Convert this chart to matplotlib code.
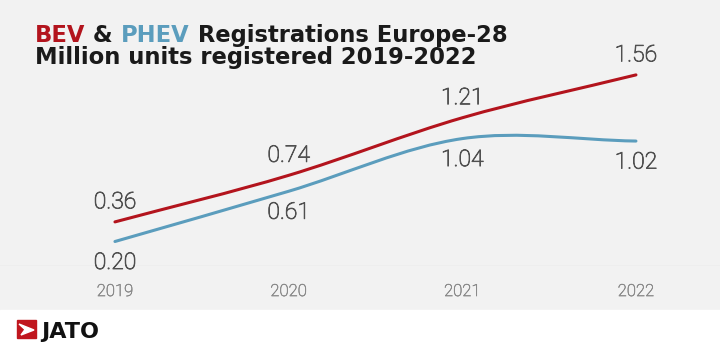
import matplotlib
matplotlib.use("Agg")
import matplotlib.pyplot as plt
import matplotlib.patheffects as pe
import numpy as np
from matplotlib.path import Path
from matplotlib.patches import PathPatch, Rectangle, Polygon

years = [2019, 2020, 2021, 2022]
bev = [0.36, 0.74, 1.21, 1.56]
phev = [0.20, 0.61, 1.04, 1.02]
bev_labels = ["0.36", "0.74", "1.21", "1.56"]
phev_labels = ["0.20", "0.61", "1.04", "1.02"]

RED = "#b3141d"
BLUE = "#5b9dbd"
BG = "#f2f2f2"

W, H = 720, 350
fig = plt.figure(figsize=(7.2, 3.5), dpi=100, facecolor=BG)

# white footer strip with logo
fig.patches.append(Rectangle((0, 0), 1, 40 / H, transform=fig.transFigure, color="white", zorder=0))
fig.patches.append(Rectangle((17 / W, 12 / H), 19 / W, 18 / H, transform=fig.transFigure,
                             color="#c0161e", zorder=1))
arrow = np.array([[19, 26], [34, 20], [21, 15], [25, 20.5]], dtype=float)
arrow[:, 0] /= W
arrow[:, 1] /= H
fig.patches.append(Polygon(arrow, closed=True, transform=fig.transFigure, color="white", zorder=2))
fig.text(41 / W, 12 / H, "JATO", fontsize=16, fontweight="bold", color="#111111",
         family="DejaVu Sans", va="baseline", ha="left")

# main axes: bottom = zero line at y=266px
ax = fig.add_axes([0, (H - 266) / H, 1, (266 - 30) / H])
ax.set_facecolor(BG)
ax.set_xlim(2018.338, 2022.484)
ax.set_ylim(0, 236 / 122.5)
for s in ax.spines.values():
    s.set_visible(False)
ax.axhline(0, color="#e2e2e2", lw=1, zorder=1)
ax.set_yticks([])
ax.set_xticks(years)
ax.set_xticklabels([str(y) for y in years])
ax.tick_params(axis="x", length=0, pad=13, labelsize=12, labelcolor="#8a8a8a")
for t in ax.get_xticklabels():
    t.set_family(["Roboto", "DejaVu Sans"])
    t.set_fontweight("light")
    t.set_path_effects([pe.withStroke(linewidth=0.4, foreground="#8a8a8a")])


def smooth(xs, ys):
    xs = np.asarray(xs, float)
    ys = np.asarray(ys, float)
    n = len(xs)
    m = np.zeros(n)
    for i in range(n):
        if i == 0:
            m[i] = (ys[1] - ys[0]) / (xs[1] - xs[0])
        elif i == n - 1:
            m[i] = (ys[-1] - ys[-2]) / (xs[-1] - xs[-2])
        else:
            m[i] = (ys[i + 1] - ys[i - 1]) / (xs[i + 1] - xs[i - 1])
    verts = [(xs[0], ys[0])]
    codes = [Path.MOVETO]
    for i in range(n - 1):
        dx = xs[i + 1] - xs[i]
        verts += [(xs[i] + dx / 3, ys[i] + m[i] * dx / 3),
                  (xs[i + 1] - dx / 3, ys[i + 1] - m[i + 1] * dx / 3),
                  (xs[i + 1], ys[i + 1])]
        codes += [Path.CURVE4] * 3
    return Path(verts, codes)


ax.add_patch(PathPatch(smooth(years, phev), fill=False, edgecolor=BLUE, lw=2.2,
                       capstyle="round", zorder=3))
ax.add_patch(PathPatch(smooth(years, bev), fill=False, edgecolor=RED, lw=2.2,
                       capstyle="round", zorder=4))

lab_kw = dict(textcoords="offset pixels", ha="center", va="center", fontsize=16.5,
              color="#505050", family=["Roboto", "DejaVu Sans"], fontweight="light",
              path_effects=[pe.withStroke(linewidth=0.6, foreground="#505050")])
for x, v, s in zip(years, bev, bev_labels):
    ax.annotate(s, (x, v), xytext=(0, 20), **lab_kw)
for x, v, s in zip(years, phev, phev_labels):
    ax.annotate(s, (x, v), xytext=(0, -21), **lab_kw)

# title in pieces
tfam = "DejaVu Sans"
fig.canvas.draw()
r = fig.canvas.get_renderer()
x0 = 35 / W
y1 = (H - 42) / H
y2 = (H - 64) / H
pieces = [("BEV", RED), (" & ", "#1a1a1a"), ("PHEV", BLUE), (" Registrations Europe-28", "#1a1a1a")]
x = x0
for txt, c in pieces:
    t = fig.text(x, y1, txt, fontsize=16.3, fontweight="bold", color=c, family=tfam,
                 ha="left", va="baseline")
    bb = t.get_window_extent(renderer=r)
    x += bb.width / W
fig.text(x0, y2, "Million units registered 2019-2022", fontsize=16.3, fontweight="bold",
         color="#1a1a1a", family=tfam, ha="left", va="baseline")

fig.savefig("out.png", dpi=100, facecolor=BG)
